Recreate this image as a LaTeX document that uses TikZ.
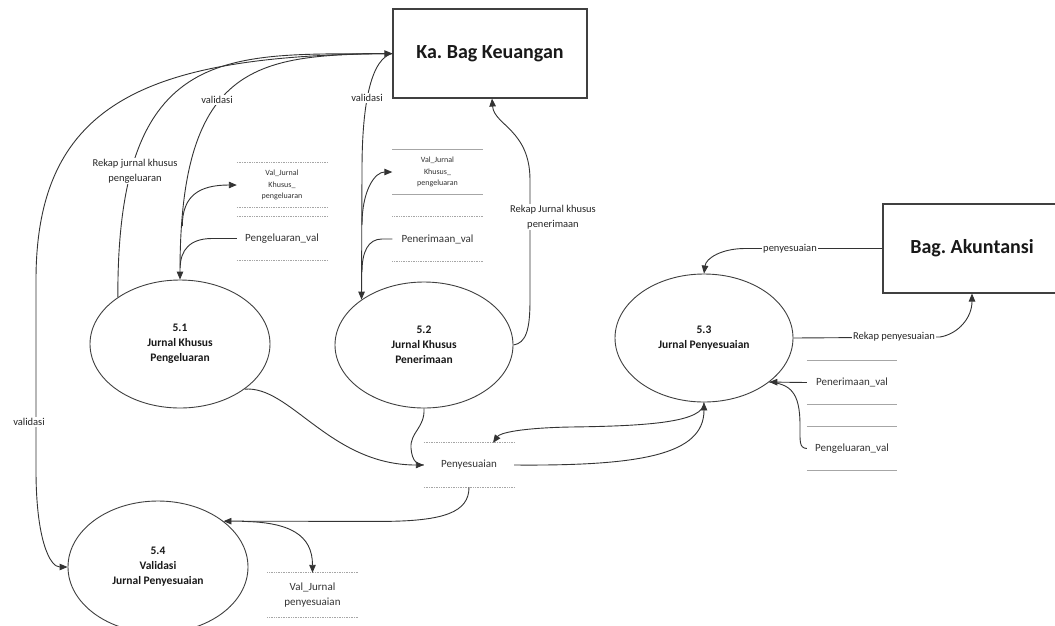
\documentclass[tikz,border=0pt]{standalone}
\usepackage{fontspec}
\setmainfont{Carlito}
\usetikzlibrary{arrows.meta,shapes.geometric}
\frenchspacing
\begin{document}
\begin{tikzpicture}[x=1pt,y=-1pt,
  line/.style={draw=black!80, line width=0.9pt},
  flow/.style={line, -{Triangle[length=8pt,width=6.5pt]}},
  entity/.style={draw=black!75, line width=1.1pt, inner sep=0pt, font=\bfseries\fontsize{20}{24}\selectfont, text=black!90},
  proc/.style={ellipse, draw=black!75, line width=0.9pt, inner sep=0pt, align=center, font=\bfseries\fontsize{11.5}{15}\selectfont, text=black!90},
  store/.style={inner sep=0pt, minimum width=90pt, minimum height=44pt, align=center, text=black!80},
  smalltxt/.style={font=\fontsize{8}{11.5}\selectfont},
  midtxt/.style={font=\fontsize{11}{14}\selectfont},
  bigtxt/.style={font=\fontsize{11}{15}\selectfont},
  stsolid/.style={draw=gray!70, line width=0.7pt},
  stdot/.style={draw=gray!70, line width=0.7pt, densely dotted},
  lbl/.style={fill=white, inner sep=1pt, align=center, font=\fontsize{10.5}{15}\selectfont, text=black!85}
]
\useasboundingbox (0,0) rectangle (1055,625);
\clip (0,0) rectangle (1055,625);
\fill[white] (0,0) rectangle (1055,625);

% external entities
\node[entity, minimum width=194pt, minimum height=89pt] (keu) at (490,53.5) {Ka. Bag Keuangan};
\node[entity, minimum width=178pt, minimum height=89pt] (akt) at (972,248.5) {Bag. Akuntansi};

% processes
\node[proc, minimum width=180pt, minimum height=128pt] (p1) at (180,344) {5.1\\Jurnal Khusus\\Pengeluaran};
\node[proc, minimum width=178pt, minimum height=126pt] (p2) at (424,345) {5.2\\Jurnal Khusus\\Penerimaan};
\node[proc, minimum width=178pt, minimum height=128pt] (p3) at (704,338) {5.3\\Jurnal Penyesuaian};
\node[proc, minimum width=180pt, minimum height=132pt] (p4) at (158,567) {5.4\\Validasi\\Jurnal Penyesuaian};

% data stores
\node[store, smalltxt] (ds1a) at (282,185) {Val\_Jurnal\\Khusus\_\\pengeluaran};
\node[store, midtxt] (ds1b) at (282,238.5) {Pengeluaran\_val};
\node[store, smalltxt] (ds2a) at (437.5,172) {Val\_Jurnal\\Khusus\_\\pengeluaran};
\node[store, midtxt] (ds2b) at (437.5,239) {Penerimaan\_val};
\node[store, midtxt] (ds3a) at (852,382.5) {Penerimaan\_val};
\node[store, midtxt] (ds3b) at (852,448.5) {Pengeluaran\_val};
\node[store, bigtxt] (ds4) at (469,465) {Penyesuaian};
\node[store, bigtxt] (ds5) at (312.5,595) {Val\_Jurnal\\penyesuaian};

\foreach \s in {ds1a,ds1b,ds2b,ds4,ds5}{
  \draw[stdot] (\s.north west) -- (\s.north east);
  \draw[stdot] (\s.south west) -- (\s.south east);
}
\foreach \s in {ds2a,ds3a,ds3b}{
  \draw[stsolid] (\s.north west) -- (\s.north east);
  \draw[stsolid] (\s.south west) -- (\s.south east);
}

% junction coordinates
\coordinate (j1) at (182.3,226);
\coordinate (j2) at (180.2,268);
\coordinate (j3) at (362,225);
\coordinate (j4) at (362,272);
\coordinate (j5) at (242,521.4);

% Rekap jurnal khusus pengeluaran: 5.1 -> Keuangan
\draw[flow] (p1.143) .. controls (117,40) and (230,55) .. (keu.west);
% validasi: Keuangan -> 5.1
\draw[flow] (keu.west) .. controls (260,55) and (180,60) .. (p1.north);
\draw[flow] (j1) .. controls (182.3,195) and (200,185) .. (ds1a.west);
\draw[line] (ds1b.west) -- (212,238.5) .. controls (190,238.5) and (180.2,250) .. (j2);
% validasi: Keuangan -> 5.4
\draw[flow] (keu.west) .. controls (150,55) and (36,100) .. (36,280) -- (36,470) .. controls (36,540) and (50,567) .. (p4.west);
% validasi: Keuangan -> 5.2
\draw[flow] (keu.west) .. controls (372,58) and (362,100) .. (362,170) -- (p2.144);
\draw[flow] (j3) .. controls (362,190) and (375,172) .. (ds2a.west);
\draw[line] (ds2b.west) -- (382,239) .. controls (368,239) and (362,252) .. (j4);
% Rekap Jurnal khusus penerimaan: 5.2 -> Keuangan
\draw[flow] (p2.east) .. controls (526,343) and (530,330) .. (530,300) -- (530,180) .. controls (530,130) and (494,125) .. ([xshift=2pt]keu.south);
% penyesuaian: Akuntansi -> 5.3
\draw[flow] (akt.west) -- (745,248.5) .. controls (722,248.5) and (706,258) .. (p3.north);
% Rekap penyesuaian: 5.3 -> Akuntansi
\draw[flow] (p3.east) -- (940,337) .. controls (958,334) and (972,318) .. (akt.south);
% stores -> 5.3
\draw[flow] (ds3a.west) -- (p3.-34);
\draw[line] (ds3b.west) .. controls (799,448) and (800,441) .. (800,425) .. controls (800,392) and (790,384) .. (p3.-34);
% 5.1, 5.2 -> Penyesuaian
\draw[flow] (p1.-35) .. controls (290,385) and (330,465) .. (ds4.west);
\draw[line] (p2.south) .. controls (425,428) and (410,432) .. (411,448) .. controls (412,462) and (418,465) .. (ds4.west);
% Penyesuaian <-> 5.3
\draw[flow] (ds4.east) .. controls (640,466) and (704,455) .. (p3.south);
\draw[flow] (p3.south) .. controls (704,422) and (650,426) .. (570,427) .. controls (520,428) and (500,433) .. ([xshift=24pt]ds4.north);
% Penyesuaian -> 5.4
\draw[flow] (ds4.south) .. controls (469,512) and (445,521.4) .. (380,521.4) -- (p4.35);
\draw[flow] (j5) .. controls (290,522) and (312.5,535) .. (ds5.north);

% labels
\node[lbl] (l1) at (135,171) {Rekap jurnal khusus\\pengeluaran};
\node[lbl] (l2) at (217,100) {validasi};
\node[lbl] (l3) at (367,98) {validasi};
\node[lbl] (l4) at (29,422) {validasi};
\node[lbl] (l5) at (553,217) {Rekap Jurnal khusus\\penerimaan};
\node[lbl] (l6) at (790,248.5) {penyesuaian};
\node[lbl] (l7) at (894,337) {Rekap penyesuaian};
\end{tikzpicture}
\end{document}
